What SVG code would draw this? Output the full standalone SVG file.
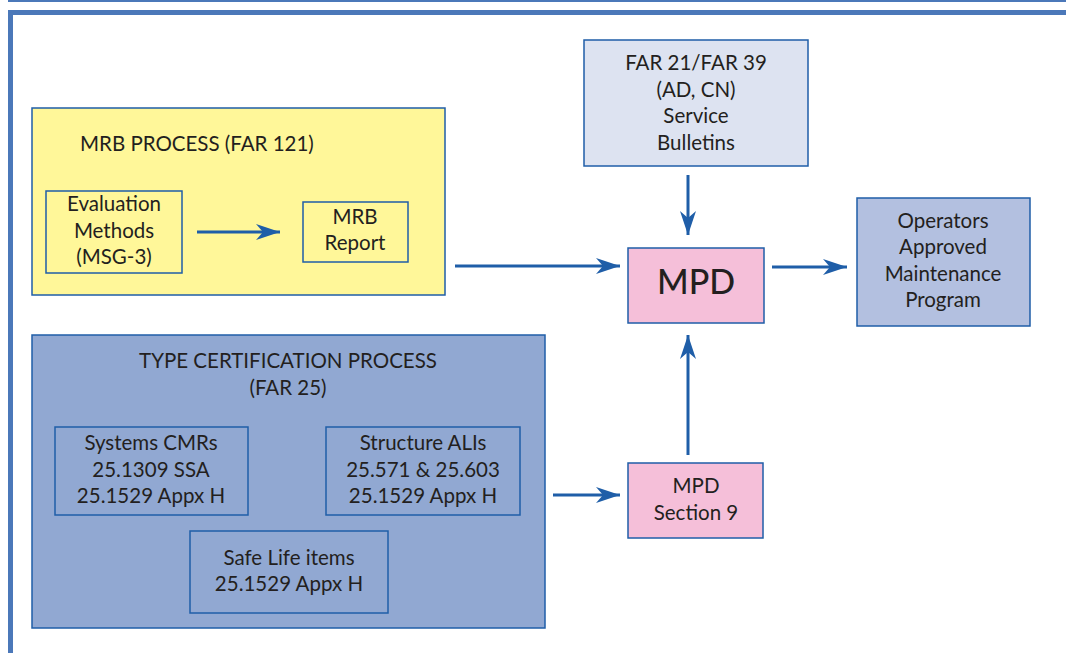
<svg xmlns="http://www.w3.org/2000/svg" width="1066" height="653" viewBox="0 0 1066 653">
  <style>
    text { font-family: Lato, "Liberation Sans", Arial, sans-serif; font-size: 20.5px; fill: #231f20; }
    .c { text-anchor: middle; }
    .box { stroke: #1f5ea8; stroke-width: 1.5; }
    .yellow { fill: #fff799; }
    .lightblue { fill: #dde3f1; }
    .pink { fill: #f5bfd9; }
    .periwinkle { fill: #b3c0e0; }
    .steel { fill: #91a8d2; }
    .frame { fill: #4b78b9; }
    .conn { stroke: #1f5ea8; stroke-width: 3; fill: none; marker-end: url(#arrow); }
  </style>
  <defs>
    <marker id="arrow" markerUnits="userSpaceOnUse" markerWidth="26" markerHeight="16" refX="24" refY="8" orient="auto">
      <path d="M0,0 L24,8 L0,16 L7,8 Z" fill="#1f5ea8"/>
    </marker>
  </defs>

  <rect width="1066" height="653" fill="#ffffff"/>

  <!-- page frame -->
  <g id="frame">
    <rect class="frame" x="8" y="0" width="1058" height="2"/>
    <rect class="frame" x="8" y="10" width="1058" height="5"/>
    <rect class="frame" x="8" y="10" width="5" height="643"/>
  </g>

  <!-- MRB process -->
  <g id="mrb-process">
    <rect class="box yellow" x="32" y="108" width="413" height="187"/>
    <text x="80" y="151">MRB PROCESS (FAR 121)</text>
  </g>
  <g id="evaluation-methods">
    <rect class="box yellow" x="46" y="191" width="136" height="82"/>
    <text class="c" x="114" y="211">Evaluation</text>
    <text class="c" x="114" y="238">Methods</text>
    <text class="c" x="114" y="264">(MSG-3)</text>
  </g>
  <g id="mrb-report">
    <rect class="box yellow" x="303" y="202" width="105" height="60"/>
    <text class="c" x="355" y="224">MRB</text>
    <text class="c" x="355" y="250">Report</text>
  </g>

  <!-- regulations -->
  <g id="far21-far39">
    <rect class="box lightblue" x="584" y="40" width="224" height="126"/>
    <text class="c" x="696" y="70">FAR 21/FAR 39</text>
    <text class="c" x="696" y="97">(AD, CN)</text>
    <text class="c" x="696" y="123">Service</text>
    <text class="c" x="696" y="150">Bulletins</text>
  </g>

  <!-- MPD -->
  <g id="mpd">
    <rect class="box pink" x="628" y="248" width="136" height="75"/>
    <text class="c" x="696" y="294" style="font-size:34px;font-weight:500">MPD</text>
  </g>

  <!-- operator program -->
  <g id="operators-program">
    <rect class="box periwinkle" x="857" y="198" width="173" height="128"/>
    <text class="c" x="943" y="228">Operators</text>
    <text class="c" x="943" y="254">Approved</text>
    <text class="c" x="943" y="281">Maintenance</text>
    <text class="c" x="943" y="307">Program</text>
  </g>

  <!-- type certification -->
  <g id="type-certification">
    <rect class="box steel" x="32" y="335" width="513" height="293"/>
    <text class="c" x="288" y="368">TYPE CERTIFICATION PROCESS</text>
    <text class="c" x="288" y="395">(FAR 25)</text>
  </g>
  <g id="systems-cmrs">
    <rect class="box steel" x="55" y="427" width="193" height="88"/>
    <text class="c" x="151" y="450">Systems CMRs</text>
    <text class="c" x="151" y="477">25.1309 SSA</text>
    <text class="c" x="151" y="503">25.1529 Appx H</text>
  </g>
  <g id="structure-alis">
    <rect class="box steel" x="326" y="427" width="194" height="88"/>
    <text class="c" x="423" y="450">Structure ALIs</text>
    <text class="c" x="423" y="477">25.571 &amp; 25.603</text>
    <text class="c" x="423" y="503">25.1529 Appx H</text>
  </g>
  <g id="safe-life">
    <rect class="box steel" x="190" y="531" width="198" height="82"/>
    <text class="c" x="289" y="565">Safe Life items</text>
    <text class="c" x="289" y="591">25.1529 Appx H</text>
  </g>

  <!-- MPD section 9 -->
  <g id="mpd-section-9">
    <rect class="box pink" x="628" y="463" width="135" height="75"/>
    <text class="c" x="696" y="493">MPD</text>
    <text class="c" x="696" y="520">Section 9</text>
  </g>

  <!-- connectors -->
  <g id="connectors">
    <line class="conn" x1="197" y1="232" x2="280" y2="232"/>
    <line class="conn" x1="455" y1="266" x2="620" y2="266"/>
    <line class="conn" x1="688" y1="175" x2="688" y2="235"/>
    <line class="conn" x1="772" y1="267" x2="847" y2="267"/>
    <line class="conn" x1="553" y1="495" x2="620" y2="495"/>
    <line class="conn" x1="688" y1="455" x2="688" y2="335"/>
  </g>
</svg>
